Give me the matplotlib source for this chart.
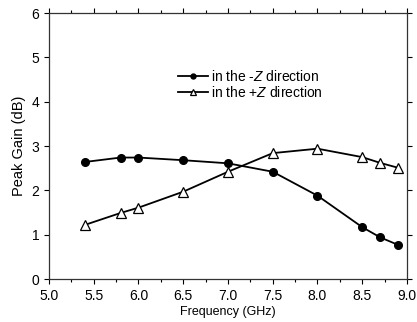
import matplotlib
matplotlib.use("Agg")
import matplotlib.pyplot as plt
from matplotlib.ticker import MultipleLocator, FormatStrFormatter

plt.rcParams['font.family'] = ['Liberation Sans', 'DejaVu Sans']
plt.rcParams['mathtext.fontset'] = 'custom'
plt.rcParams['mathtext.it'] = 'Liberation Sans:italic'
plt.rcParams['mathtext.rm'] = 'Liberation Sans'

freq = [5.4, 5.8, 6.0, 6.5, 7.0, 7.5, 8.0, 8.5, 8.7, 8.9]
gain_minus_z = [2.64, 2.74, 2.74, 2.68, 2.61, 2.42, 1.88, 1.17, 0.94, 0.77]
gain_plus_z = [1.22, 1.49, 1.61, 1.97, 2.42, 2.84, 2.94, 2.75, 2.62, 2.51]

fig = plt.figure(figsize=(4.17, 3.22), dpi=100)
ax = fig.add_axes([0.1175, 0.1335, 0.8585, 0.826])

ax.plot(freq, gain_minus_z, color='black', lw=1.3, marker='o', ms=5.5,
        mfc='black', mec='black', label=r'in the -$Z$ direction')
ax.plot(freq, gain_plus_z, color='black', lw=1.3, marker='^', ms=6.5,
        mfc='white', mec='black', mew=0.9, label=r'in the +$Z$ direction')

ax.set_xlim(5.0, 9.0)
ax.set_ylim(0, 6)
ax.xaxis.set_major_locator(MultipleLocator(0.5))
ax.xaxis.set_minor_locator(MultipleLocator(0.25))
ax.yaxis.set_major_locator(MultipleLocator(1))
ax.xaxis.set_major_formatter(FormatStrFormatter('%.1f'))

ax.xaxis.set_ticks_position('both')
ax.yaxis.set_ticks_position('both')
ax.tick_params(which='both', direction='out', labelsize=10, width=0.8)
ax.tick_params(which='major', length=3.5)
ax.tick_params(which='minor', length=2.5)
ax.tick_params(axis='y', which='minor', left=False, right=False)
for s in ax.spines.values():
    s.set_linewidth(0.9)
    s.set_color('#333333')

ax.set_xlabel('Frequency (GHz)', fontsize=9, labelpad=2)
ax.set_ylabel('Peak Gain (dB)', fontsize=10.5, labelpad=4)

ax.legend(loc='upper left', bbox_to_anchor=(0.34, 0.815), frameon=False,
          fontsize=10, handlelength=2.15, handletextpad=0.25, labelspacing=0.05,
          markerscale=0.65, borderpad=0)

fig.savefig('out.png', dpi=100)
